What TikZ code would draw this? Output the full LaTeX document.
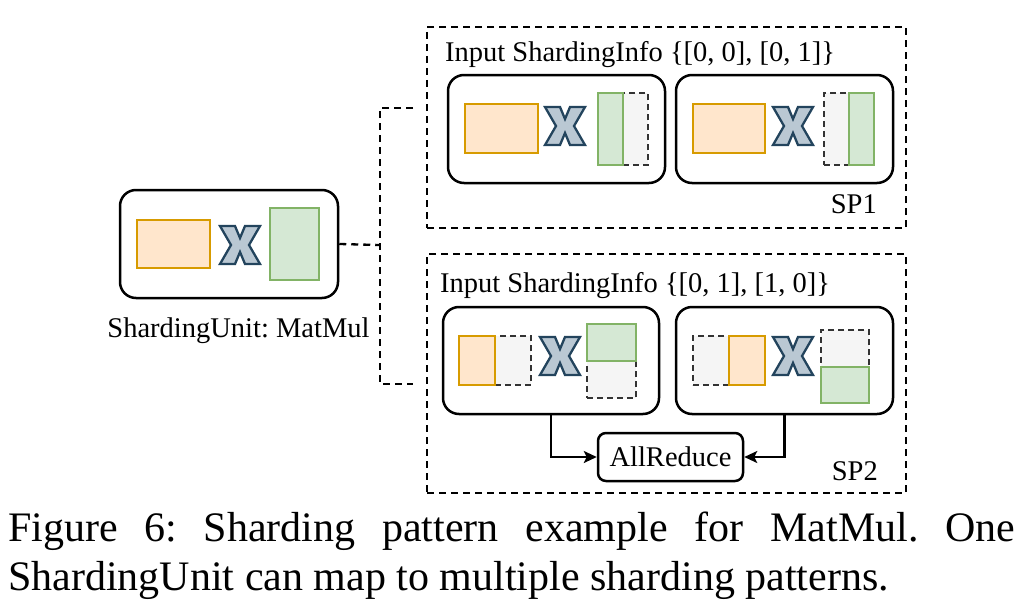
\documentclass[tikz,border=0pt]{standalone}
\usepackage{fontspec}
\setmainfont{Liberation Serif}
\usetikzlibrary{arrows.meta}
\definecolor{ofill}{HTML}{FFE6CC}
\definecolor{odraw}{HTML}{D79B00}
\definecolor{gfill}{HTML}{D5E8D4}
\definecolor{gdraw}{HTML}{82B366}
\definecolor{pfill}{HTML}{F5F5F5}
\definecolor{pdraw}{HTML}{333333}
\definecolor{xfill}{HTML}{BAC8D3}
\definecolor{xdraw}{HTML}{23445D}
\tikzset{
  lbl/.style={font=\fontsize{28.5}{34}\selectfont, inner sep=0pt},
  ubox/.style={draw=black, line width=2.5pt, rounded corners=16pt, inner sep=0pt},
  grp/.style={draw=black, line width=2.3pt, dash pattern=on 7pt off 5pt, inner sep=0pt},
  orect/.style={draw=odraw, fill=ofill, line width=2.3pt, inner sep=0pt},
  grect/.style={draw=gdraw, fill=gfill, line width=2.3pt, inner sep=0pt},
  prect/.style={draw=pdraw, fill=pfill, line width=2.3pt, dash pattern=on 6pt off 4pt, inner sep=0pt},
  xshape/.style={draw=xdraw, fill=xfill, line width=2.3pt, line join=miter},
  dline/.style={draw=black, line width=2.3pt, dash pattern=on 7pt off 5pt},
  arr/.style={draw=black, line width=2.3pt, -{Stealth[length=13pt,width=12pt,inset=3pt]}},
  arbox/.style={draw=black, line width=2.5pt, rounded corners=8pt, inner sep=0pt, font=\fontsize{28.5}{34}\selectfont},
  mulx/.pic={\path[xshape] (-20,-19) -- (-5,-19) -- (0,-7) -- (5,-19) -- (20,-19) -- (9,0) -- (20,19) -- (5,19) -- (0,7) -- (-5,19) -- (-20,19) -- (-9,0) -- cycle;}
}
\begin{document}
\frenchspacing
\begin{tikzpicture}[x=1pt,y=-1pt]
\useasboundingbox (0,0) rectangle (1030,610);
% left unit
\node[ubox, minimum width=218pt, minimum height=108pt] (unit) at (229,244) {};
\node[orect, minimum width=73pt, minimum height=48pt] (o0) at (173.5,244) {};
\pic at (240,245) {mulx};
\node[grect, minimum width=49pt, minimum height=72pt] (g0) at (294.5,244) {};
\node[lbl, anchor=base] (ulbl) at (238.5,337) {ShardingUnit: MatMul};
% SP1
\node[grp, minimum width=479pt, minimum height=201pt] (sp1) at (666.5,127.5) {};
\node[lbl, anchor=base west] (t1) at (445,62) {Input ShardingInfo \{[0, 0], [0, 1]\}};
\node[lbl, anchor=base east] (l1) at (877,213) {SP1};
\node[ubox, minimum width=217pt, minimum height=108pt] (s11) at (556.5,129) {};
\node[orect, minimum width=73pt, minimum height=49pt] (o11) at (501.5,128.5) {};
\pic at (565,126) {mulx};
\node[prect, minimum width=25pt, minimum height=72pt] (d11) at (635.5,129) {};
\node[grect, minimum width=25pt, minimum height=72pt] (g11) at (610.5,129) {};
\node[ubox, minimum width=217pt, minimum height=108pt] (s12) at (784.5,129) {};
\node[orect, minimum width=72pt, minimum height=49pt] (o12) at (729,128.5) {};
\pic at (793,126) {mulx};
\node[prect, minimum width=25pt, minimum height=72pt] (d12) at (836.5,129) {};
\node[grect, minimum width=25pt, minimum height=72pt] (g12) at (861.5,129) {};
% SP2
\node[grp, minimum width=479pt, minimum height=239pt] (sp2) at (666.5,373.5) {};
\node[lbl, anchor=base west] (t2) at (440,292) {Input ShardingInfo \{[0, 1], [1, 0]\}};
\node[lbl, anchor=base east] (l2) at (878,480) {SP2};
\node[ubox, minimum width=216pt, minimum height=107pt] (s21) at (551,360.5) {};
\node[prect, minimum width=36pt, minimum height=49pt] (d21) at (513,360.5) {};
\node[orect, minimum width=36pt, minimum height=49pt] (o21) at (477,360.5) {};
\pic at (560,356) {mulx};
\node[prect, minimum width=49pt, minimum height=37pt] (d21b) at (611.5,379.5) {};
\node[grect, minimum width=49pt, minimum height=37pt] (g21) at (611.5,342.5) {};
\node[ubox, minimum width=217pt, minimum height=107pt] (s22) at (784.5,360.5) {};
\node[prect, minimum width=36pt, minimum height=49pt] (d22) at (711,360.5) {};
\node[orect, minimum width=36pt, minimum height=49pt] (o22) at (747,360.5) {};
\pic at (793,356) {mulx};
\node[prect, minimum width=48pt, minimum height=37pt] (d22b) at (845,348.5) {};
\node[grect, minimum width=48pt, minimum height=36pt] (g22) at (845,385) {};
\node[arbox, minimum width=145pt, minimum height=48pt] (ar) at (670.5,457) {AllReduce};
\draw[arr] (s21.south) |- (ar.west);
\draw[arr] (s22.south) |- (ar.east);
% dashed connector
\coordinate (j) at (380,245);
\coordinate (e1) at (413,108);
\coordinate (e2) at (413,384);
\draw[dline] (unit.east) -- (j);
\draw[dline] (e1) -| (j) |- (e2);
% caption
\node[anchor=north west, inner sep=0pt, text width=1007pt, align=justify, font=\fontsize{42}{49}\selectfont] (cap) at (8,512)
  {Figure 6: Sharding pattern example for MatMul. One\linebreak ShardingUnit can map to multiple sharding patterns.};
\end{tikzpicture}
\end{document}
